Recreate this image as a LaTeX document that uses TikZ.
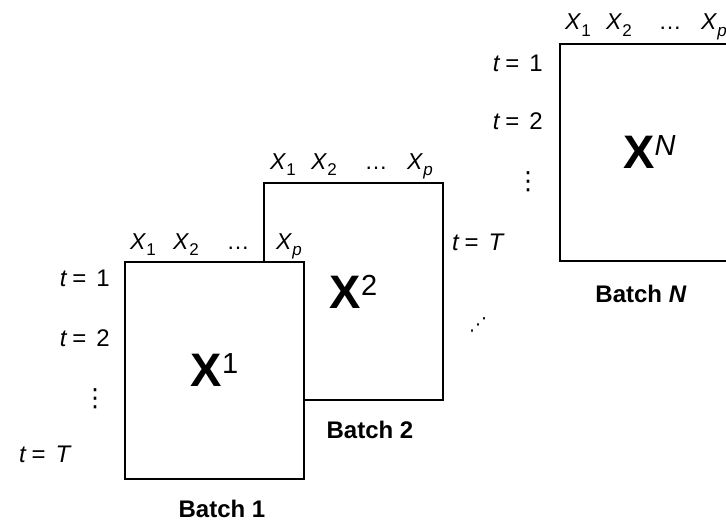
\documentclass[tikz,border=0pt]{standalone}
\usepackage{fontspec}
\setmainfont{Liberation Sans}
\newfontfamily\dotfont{DejaVu Sans}
\usetikzlibrary{positioning,calc}
\tikzset{
    batchBox/.style={
        rectangle,
        draw,
        line width=2pt,
        fill=white,
        minimum width=179pt,
        minimum height=217pt,
        inner sep=0pt,
        font=\fontsize{47}{50}\selectfont
    },
    varLabel/.style={font=\fontsize{23}{26}\selectfont, inner sep=0pt, anchor=base},
    timeLabel/.style={font=\fontsize{24}{28}\selectfont, inner sep=0pt, anchor=base east},
    dotLabel/.style={font=\dotfont\fontsize{25}{28}\selectfont, inner sep=0pt},
    batchLabel/.style={font=\bfseries\fontsize{24}{28}\selectfont, inner sep=0pt, anchor=base}
}
\newcommand{\xvar}[1]{\textit{X}\raisebox{-6pt}{\fontsize{17}{19}\selectfont #1}}
\newcommand{\tval}[1]{\textit{t}\hspace{5pt}=\hspace{10pt}#1}
\newcommand{\batchmat}[1]{\textbf{X}\raisebox{13pt}{\fontsize{29}{31}\selectfont #1}}

\begin{document}
\begin{tikzpicture}[x=1pt, y=-1pt]
    \useasboundingbox (0,0) rectangle (726,522);

    % batch boxes
    \node[batchBox, anchor=north west] (boxTwo) at (263,182) {\batchmat{2}};
    \node[batchBox, anchor=north west] (boxOne) at (124,261) {\batchmat{1}};
    \node[batchBox, anchor=north west] (boxN) at (559,43) {\batchmat{\textit{N}}};

    % batch 1
    \node[varLabel] (oneXa) at (143,249) {\xvar{1}};
    \node[varLabel] (oneXb) at (186,249) {\xvar{2}};
    \node[varLabel] (oneXd) at (238,249) {…};
    \node[varLabel] (oneXp) at (289,249) {\xvar{\textit{p}}};
    \node[timeLabel] (oneTa) at (110,286) {\tval{1}};
    \node[timeLabel] (oneTb) at (110,346) {\tval{2}};
    \node[dotLabel] (oneTd) at (95,399) {⋮};
    \node[timeLabel] (oneTT) at (72,462) {\tval{\textit{T}}};
    \node[batchLabel] (oneName) at (222,517) {Batch 1};

    % batch 2
    \node[varLabel] (twoXa) at (283,169) {\xvar{1}};
    \node[varLabel] (twoXb) at (324,169) {\xvar{2}};
    \node[varLabel] (twoXd) at (376,169) {…};
    \node[varLabel] (twoXp) at (420,169) {\xvar{\textit{p}}};
    \node[batchLabel] (twoName) at (370,438) {Batch 2};

    % batch N
    \node[varLabel] (nXa) at (578,30) {\xvar{1}};
    \node[varLabel] (nXb) at (619,30) {\xvar{2}};
    \node[varLabel] (nXd) at (670,30) {…};
    \node[varLabel] (nXp) at (714,30) {\xvar{\textit{p}}};
    \node[timeLabel] (nTa) at (543,71) {\tval{1}};
    \node[timeLabel] (nTb) at (543,129) {\tval{2}};
    \node[dotLabel] (nTd) at (528,182) {⋮};
    \node[timeLabel] (nTT) at (505,250) {\tval{\textit{T}}};
    \node[batchLabel] (nName) at (641,302) {Batch \textit{N}};

    % between the batches
    \node[dotLabel, font=\dotfont\fontsize{18}{20}\selectfont] (gapDots) at (478,325) {⋰};
\end{tikzpicture}
\end{document}
